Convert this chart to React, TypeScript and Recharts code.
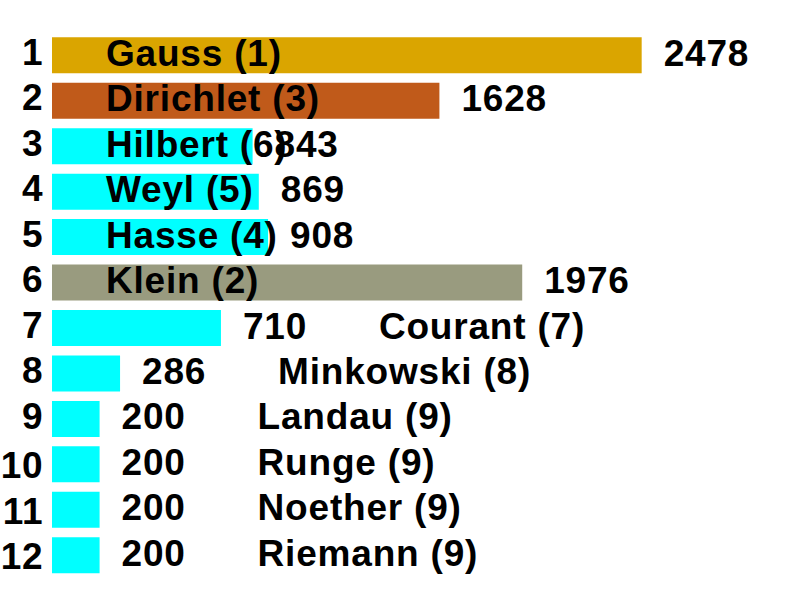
import React from 'react';
import { BarChart, Bar, XAxis, YAxis, Cell, LabelList } from 'recharts';

// Row ranks shown down the left side
const ranks = ['1', '2', '3', '4', '5', '6', '7', '8', '9', '10', '11', '12'];
// Mathematicians, top to bottom
const names = [
  'Gauss', 'Dirichlet', 'Hilbert', 'Weyl', 'Hasse', 'Klein',
  'Courant', 'Minkowski', 'Landau', 'Runge', 'Noether', 'Riemann',
];
// Number shown in parentheses after each name
const order = [1, 3, 6, 5, 4, 2, 7, 8, 9, 9, 9, 9];
// Bar values
const values = [2478, 1628, 843, 869, 908, 1976, 710, 286, 200, 200, 200, 200];

const FILL: Record<string, string> = {
  Gauss: '#DAA500',
  Dirichlet: '#C05A1A',
  Klein: '#999B7F',
};
const DEFAULT_FILL = '#00FFFF';

const FONT = '"Liberation Sans", Arial, Helvetica, sans-serif';
const FONT_SIZE = 37;
const SPACING = 0.8;

const data = ranks.map((rank, i) => ({
  rank,
  name: names[i],
  label: `${names[i]} (${order[i]})`,
  order: order[i],
  value: values[i],
}));

const RankTick = (props: any) => {
  const { y, payload } = props;
  const txt = String(payload.value);
  const dy = txt.length > 1 ? 14 : 10;
  return (
    <text
      x={43.5}
      y={y + dy}
      textAnchor="end"
      fontFamily={FONT}
      fontWeight="bold"
      fontSize={FONT_SIZE}
      letterSpacing={SPACING}
      fill="#000"
    >
      {txt}
    </text>
  );
};

const ValueLabel = (props: any) => {
  const { x, y, width, height, value } = props;
  return (
    <text
      x={x + width + 22}
      y={y + height / 2 + 10.5}
      textAnchor="start"
      fontFamily={FONT}
      fontWeight="bold"
      fontSize={FONT_SIZE}
      letterSpacing={SPACING}
      fill="#000"
    >
      {value}
    </text>
  );
};

const NameLabel = (props: any) => {
  const { x, y, width, height, value, index } = props;
  const row = data[index];
  // Names of the first six places sit inside the bar; the rest trail the value
  const inside = row && row.order <= 6;
  const tx = inside ? x + 54 : x + width + 158;
  return (
    <text
      x={tx}
      y={y + height / 2 + 10.5}
      textAnchor="start"
      fontFamily={FONT}
      fontWeight="bold"
      fontSize={FONT_SIZE}
      letterSpacing={SPACING}
      fill="#000"
    >
      {value}
    </text>
  );
};

export default function App() {
  return (
    <div style={{ position: 'absolute', left: 0, top: 0, width: 800, height: 600, background: '#fff' }}>
      <BarChart
        width={800}
        height={600}
        data={data}
        layout="vertical"
        margin={{ top: 32.3, right: 34.1, bottom: 22.3, left: 0 }}
        barCategoryGap={0}
      >
        <XAxis type="number" domain={[0, 3000]} hide />
        <YAxis
          type="category"
          dataKey="rank"
          width={52}
          axisLine={false}
          tickLine={false}
          interval={0}
          tick={<RankTick />}
        />
        <Bar dataKey="value" barSize={36} isAnimationActive={false}>
          {data.map((d) => (
            <Cell key={d.rank} fill={FILL[d.name] ?? DEFAULT_FILL} />
          ))}
          <LabelList dataKey="value" content={<ValueLabel />} />
          <LabelList dataKey="label" content={<NameLabel />} />
        </Bar>
      </BarChart>
    </div>
  );
}
